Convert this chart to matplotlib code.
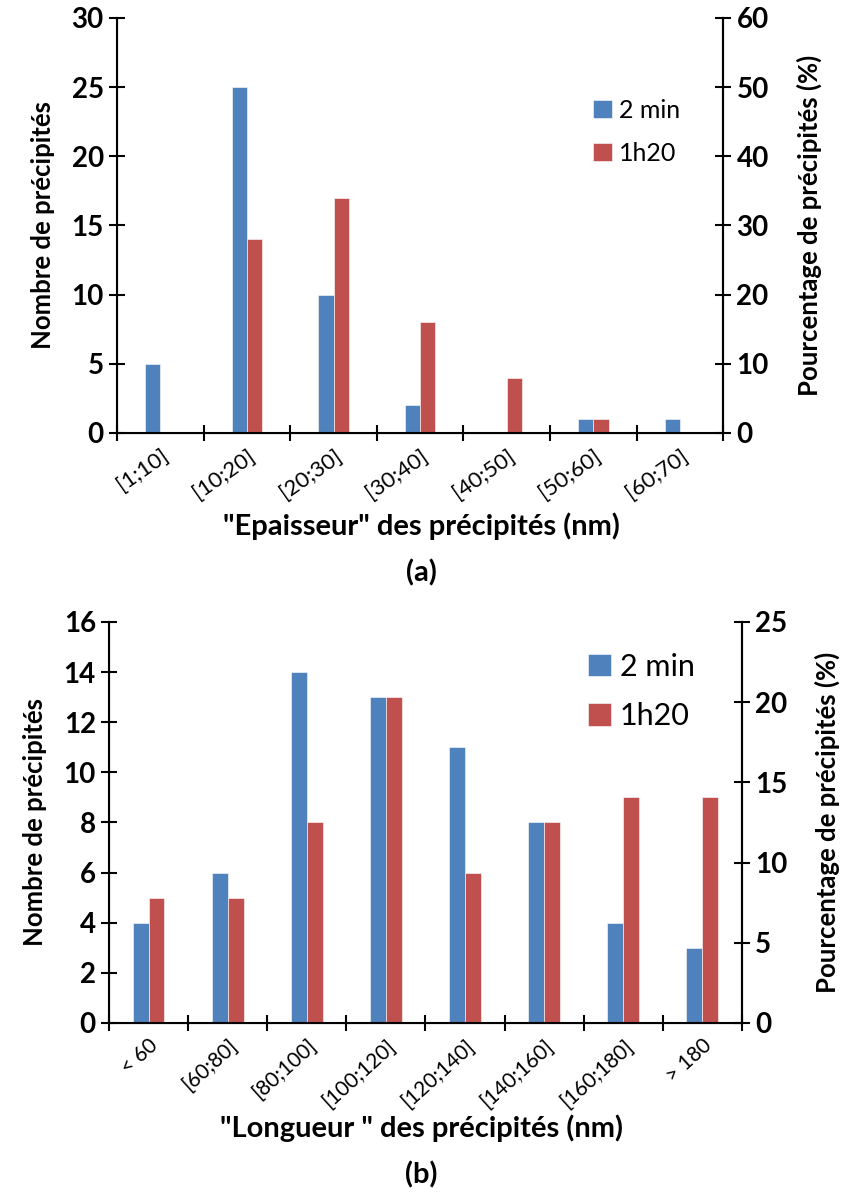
import matplotlib
matplotlib.use("Agg")
import matplotlib.pyplot as plt
import numpy as np

plt.rcParams['font.family'] = ['Lato', 'DejaVu Sans']

# (a) epaisseur
cats_a = ["[1;10]", "[10;20]", "[20;30]", "[30;40]", "[40;50]", "[50;60]", "[60;70]"]
min2_a = [5, 25, 10, 2, 0, 1, 1]
h120_a = [0, 14, 17, 8, 4, 1, 0]

# (b) longueur
cats_b = ["< 60", "[60;80]", "[80;100]", "[100;120]", "[120;140]", "[140;160]", "[160;180]", "> 180"]
min2_b = [4, 6, 14, 13, 11, 8, 4, 3]
h120_b = [5, 5, 8, 13, 6, 8, 9, 9]

BLUE = '#4F81BD'
RED = '#C0504D'


def panel(fig, rect, cats, blue, red, ymax, ystep, ymax2, ystep2, w, xlabel,
          tag, tag_y, xlabel_y, leg_loc, leg_size, leg_space, cat_size, cat_rot):
    ax = fig.add_axes(rect)
    n = len(cats)
    x = np.arange(n)
    b1 = ax.bar(x - w / 2, blue, w, color=BLUE, edgecolor='white', linewidth=0.4, label='2 min')
    b2 = ax.bar(x + w / 2, red, w, color=RED, edgecolor='white', linewidth=0.4, label='1h20')
    ax.set_xlim(-0.5, n - 0.5)
    ax.set_ylim(0, ymax)
    ax.set_yticks(np.arange(0, ymax + 0.01, ystep))
    ax.set_xticks(np.arange(n + 1) - 0.5)
    ax.set_xticklabels([])
    ax.set_xticks(x, minor=True)
    ax.set_xticklabels(cats, minor=True, rotation=cat_rot, ha='right',
                       rotation_mode='anchor', fontsize=cat_size)
    ax.tick_params(axis='x', which='minor', length=0, pad=9)
    ax.tick_params(axis='both', which='major', direction='inout', length=12,
                   width=1.5, labelsize=20)
    for t in ax.get_yticklabels():
        t.set_fontweight('bold')
    ax.spines['top'].set_visible(False)
    for s in ['left', 'right', 'bottom']:
        ax.spines[s].set_linewidth(1.5)
    ax.set_ylabel('Nombre de précipités', fontsize=18.5, fontweight='bold', labelpad=12)

    ax2 = ax.twinx()
    ax2.set_ylim(0, ymax2)
    ax2.set_yticks(np.arange(0, ymax2 + 0.01, ystep2))
    ax2.tick_params(axis='y', direction='inout', length=12, width=1.5, labelsize=20)
    for t in ax2.get_yticklabels():
        t.set_fontweight('bold')
    ax2.spines['top'].set_visible(False)
    ax2.spines['right'].set_linewidth(1.5)
    ax2.set_ylabel('Pourcentage de précipités (%)', fontsize=18.5, fontweight='bold', labelpad=20)

    ax.legend(handles=[b1, b2], loc='upper left', bbox_to_anchor=leg_loc,
              frameon=False, fontsize=leg_size, handlelength=0.75,
              handleheight=0.75, handletextpad=0.3, labelspacing=leg_space)

    fig.text(0.5, xlabel_y, xlabel, ha='center', va='center', fontsize=21, fontweight='bold')
    fig.text(0.5, tag_y, tag, ha='center', va='center', fontsize=21, fontweight='bold')
    return ax


fig = plt.figure(figsize=(8.42, 11.95), dpi=100)

panel(fig, [0.139, 0.6377, 0.72, 0.3473], cats_a, min2_a, h120_a, 30, 5, 60, 10, 0.175,
      '"Epaisseur" des précipités (nm)', '(a)', 1 - 573 / 1195, 1 - 526 / 1195,
      (0.748, 0.86), 18, 0.8, 16, 35)

panel(fig, [0.1295, 0.144, 0.7515, 0.3355], cats_b, min2_b, h120_b, 16, 2, 25, 5, 0.2,
      '"Longueur " des précipités (nm)', '(b)', 1 - 1175 / 1195, 1 - 1128 / 1195,
      (0.713, 0.992), 22, 0.7, 15, 42)

fig.savefig('out.png', dpi=100)
